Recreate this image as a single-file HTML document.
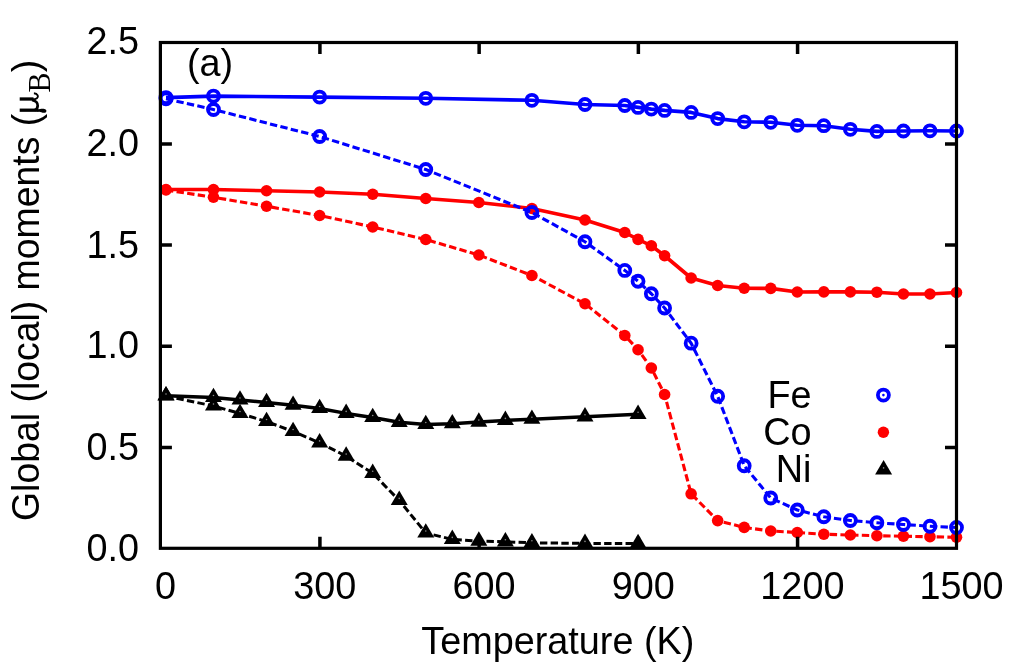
<!DOCTYPE html>
<html><head><meta charset="utf-8"><title>Global (local) moments</title>
<style>html,body{margin:0;padding:0;background:#fff;overflow:hidden}svg text{fill:#000}</style></head>
<body>
<div style="will-change:transform;width:1024px;height:668px"><svg width="1024" height="668" viewBox="0 0 1024 668" style="display:block;font-family:'Liberation Sans',sans-serif">
<rect width="1024" height="668" fill="#fff"/>
<polyline points="166.0,189.5 213.47,189.5 266.55,190.75 319.62,192 372.69,194.25 425.77,198.5 478.84,202.5 531.91,208.5 584.99,220 624.79,232.5 638.06,239.4 651.33,245.75 664.6,255.75 691.13,278 717.67,285.5 744.21,288.25 770.74,288.4 797.28,292 823.82,291.9 850.35,291.9 876.89,292.2 903.43,294 929.96,294 956.5,292.5" fill="none" stroke="#f00" stroke-width="3.6" stroke-linejoin="round"/>
<circle cx="166.0" cy="189.5" r="5.8" fill="#f00"/>
<circle cx="213.47" cy="189.5" r="5.8" fill="#f00"/>
<circle cx="266.55" cy="190.75" r="5.8" fill="#f00"/>
<circle cx="319.62" cy="192" r="5.8" fill="#f00"/>
<circle cx="372.69" cy="194.25" r="5.8" fill="#f00"/>
<circle cx="425.77" cy="198.5" r="5.8" fill="#f00"/>
<circle cx="478.84" cy="202.5" r="5.8" fill="#f00"/>
<circle cx="531.91" cy="208.5" r="5.8" fill="#f00"/>
<circle cx="584.99" cy="220" r="5.8" fill="#f00"/>
<circle cx="624.79" cy="232.5" r="5.8" fill="#f00"/>
<circle cx="638.06" cy="239.4" r="5.8" fill="#f00"/>
<circle cx="651.33" cy="245.75" r="5.8" fill="#f00"/>
<circle cx="664.6" cy="255.75" r="5.8" fill="#f00"/>
<circle cx="691.13" cy="278" r="5.8" fill="#f00"/>
<circle cx="717.67" cy="285.5" r="5.8" fill="#f00"/>
<circle cx="744.21" cy="288.25" r="5.8" fill="#f00"/>
<circle cx="770.74" cy="288.4" r="5.8" fill="#f00"/>
<circle cx="797.28" cy="292" r="5.8" fill="#f00"/>
<circle cx="823.82" cy="291.9" r="5.8" fill="#f00"/>
<circle cx="850.35" cy="291.9" r="5.8" fill="#f00"/>
<circle cx="876.89" cy="292.2" r="5.8" fill="#f00"/>
<circle cx="903.43" cy="294" r="5.8" fill="#f00"/>
<circle cx="929.96" cy="294" r="5.8" fill="#f00"/>
<circle cx="956.5" cy="292.5" r="5.8" fill="#f00"/>
<polyline points="166.0,190 213.47,197.25 266.55,206.25 319.62,215.5 372.69,227 425.77,239.5 478.84,255 531.91,275.5 584.99,303.75 624.79,335.5 638.06,349.75 651.33,368 664.6,394.5 691.13,493.8 717.67,520.6 744.21,527.4 770.74,531 797.28,532.5 823.82,534.25 850.35,535 876.89,535.75 903.43,536.25 929.96,536.75 956.5,537.25" fill="none" stroke="#f00" stroke-width="3.1" stroke-dasharray="7.4 3.3" stroke-linejoin="round"/>
<circle cx="166.0" cy="190" r="5.8" fill="#f00"/>
<circle cx="213.47" cy="197.25" r="5.8" fill="#f00"/>
<circle cx="266.55" cy="206.25" r="5.8" fill="#f00"/>
<circle cx="319.62" cy="215.5" r="5.8" fill="#f00"/>
<circle cx="372.69" cy="227" r="5.8" fill="#f00"/>
<circle cx="425.77" cy="239.5" r="5.8" fill="#f00"/>
<circle cx="478.84" cy="255" r="5.8" fill="#f00"/>
<circle cx="531.91" cy="275.5" r="5.8" fill="#f00"/>
<circle cx="584.99" cy="303.75" r="5.8" fill="#f00"/>
<circle cx="624.79" cy="335.5" r="5.8" fill="#f00"/>
<circle cx="638.06" cy="349.75" r="5.8" fill="#f00"/>
<circle cx="651.33" cy="368" r="5.8" fill="#f00"/>
<circle cx="664.6" cy="394.5" r="5.8" fill="#f00"/>
<circle cx="691.13" cy="493.8" r="5.8" fill="#f00"/>
<circle cx="717.67" cy="520.6" r="5.8" fill="#f00"/>
<circle cx="744.21" cy="527.4" r="5.8" fill="#f00"/>
<circle cx="770.74" cy="531" r="5.8" fill="#f00"/>
<circle cx="797.28" cy="532.5" r="5.8" fill="#f00"/>
<circle cx="823.82" cy="534.25" r="5.8" fill="#f00"/>
<circle cx="850.35" cy="535" r="5.8" fill="#f00"/>
<circle cx="876.89" cy="535.75" r="5.8" fill="#f00"/>
<circle cx="903.43" cy="536.25" r="5.8" fill="#f00"/>
<circle cx="929.96" cy="536.75" r="5.8" fill="#f00"/>
<circle cx="956.5" cy="537.25" r="5.8" fill="#f00"/>
<polyline points="166.0,97.6 213.47,96.1 319.62,97.1 425.77,98.3 531.91,100.3 584.99,104.5 624.79,105.5 638.06,107.4 651.33,109.1 664.6,110.4 691.13,112.4 717.67,118.6 744.21,121.8 770.74,122.3 797.28,125.3 823.82,125.7 850.35,129.3 876.89,131.4 903.43,131.0 929.96,130.8 956.5,131.0" fill="none" stroke="#00f" stroke-width="3.6" stroke-linejoin="round"/>
<circle cx="166.0" cy="97.6" r="5.5" fill="none" stroke="#00f" stroke-width="3.8"/>
<circle cx="213.47" cy="96.1" r="5.5" fill="none" stroke="#00f" stroke-width="3.8"/>
<circle cx="319.62" cy="97.1" r="5.5" fill="none" stroke="#00f" stroke-width="3.8"/>
<circle cx="425.77" cy="98.3" r="5.5" fill="none" stroke="#00f" stroke-width="3.8"/>
<circle cx="531.91" cy="100.3" r="5.5" fill="none" stroke="#00f" stroke-width="3.8"/>
<circle cx="584.99" cy="104.5" r="5.5" fill="none" stroke="#00f" stroke-width="3.8"/>
<circle cx="624.79" cy="105.5" r="5.5" fill="none" stroke="#00f" stroke-width="3.8"/>
<circle cx="638.06" cy="107.4" r="5.5" fill="none" stroke="#00f" stroke-width="3.8"/>
<circle cx="651.33" cy="109.1" r="5.5" fill="none" stroke="#00f" stroke-width="3.8"/>
<circle cx="664.6" cy="110.4" r="5.5" fill="none" stroke="#00f" stroke-width="3.8"/>
<circle cx="691.13" cy="112.4" r="5.5" fill="none" stroke="#00f" stroke-width="3.8"/>
<circle cx="717.67" cy="118.6" r="5.5" fill="none" stroke="#00f" stroke-width="3.8"/>
<circle cx="744.21" cy="121.8" r="5.5" fill="none" stroke="#00f" stroke-width="3.8"/>
<circle cx="770.74" cy="122.3" r="5.5" fill="none" stroke="#00f" stroke-width="3.8"/>
<circle cx="797.28" cy="125.3" r="5.5" fill="none" stroke="#00f" stroke-width="3.8"/>
<circle cx="823.82" cy="125.7" r="5.5" fill="none" stroke="#00f" stroke-width="3.8"/>
<circle cx="850.35" cy="129.3" r="5.5" fill="none" stroke="#00f" stroke-width="3.8"/>
<circle cx="876.89" cy="131.4" r="5.5" fill="none" stroke="#00f" stroke-width="3.8"/>
<circle cx="903.43" cy="131.0" r="5.5" fill="none" stroke="#00f" stroke-width="3.8"/>
<circle cx="929.96" cy="130.8" r="5.5" fill="none" stroke="#00f" stroke-width="3.8"/>
<circle cx="956.5" cy="131.0" r="5.5" fill="none" stroke="#00f" stroke-width="3.8"/>
<polyline points="166.0,98.8 213.47,109.5 319.62,136.5 425.77,169.5 531.91,212.5 584.99,241.75 624.79,270.4 638.06,281.25 651.33,293.75 664.6,308 691.13,343.2 717.67,396.25 744.21,465.75 770.74,498 797.28,510 823.82,516.75 850.35,520.5 876.89,522.75 903.43,524.5 929.96,526.25 956.5,527.5" fill="none" stroke="#00f" stroke-width="3.1" stroke-dasharray="7.4 3.3" stroke-linejoin="round"/>
<circle cx="166.0" cy="98.8" r="5.5" fill="none" stroke="#00f" stroke-width="3.8"/>
<circle cx="213.47" cy="109.5" r="5.5" fill="none" stroke="#00f" stroke-width="3.8"/>
<circle cx="319.62" cy="136.5" r="5.5" fill="none" stroke="#00f" stroke-width="3.8"/>
<circle cx="425.77" cy="169.5" r="5.5" fill="none" stroke="#00f" stroke-width="3.8"/>
<circle cx="531.91" cy="212.5" r="5.5" fill="none" stroke="#00f" stroke-width="3.8"/>
<circle cx="584.99" cy="241.75" r="5.5" fill="none" stroke="#00f" stroke-width="3.8"/>
<circle cx="624.79" cy="270.4" r="5.5" fill="none" stroke="#00f" stroke-width="3.8"/>
<circle cx="638.06" cy="281.25" r="5.5" fill="none" stroke="#00f" stroke-width="3.8"/>
<circle cx="651.33" cy="293.75" r="5.5" fill="none" stroke="#00f" stroke-width="3.8"/>
<circle cx="664.6" cy="308" r="5.5" fill="none" stroke="#00f" stroke-width="3.8"/>
<circle cx="691.13" cy="343.2" r="5.5" fill="none" stroke="#00f" stroke-width="3.8"/>
<circle cx="717.67" cy="396.25" r="5.5" fill="none" stroke="#00f" stroke-width="3.8"/>
<circle cx="744.21" cy="465.75" r="5.5" fill="none" stroke="#00f" stroke-width="3.8"/>
<circle cx="770.74" cy="498" r="5.5" fill="none" stroke="#00f" stroke-width="3.8"/>
<circle cx="797.28" cy="510" r="5.5" fill="none" stroke="#00f" stroke-width="3.8"/>
<circle cx="823.82" cy="516.75" r="5.5" fill="none" stroke="#00f" stroke-width="3.8"/>
<circle cx="850.35" cy="520.5" r="5.5" fill="none" stroke="#00f" stroke-width="3.8"/>
<circle cx="876.89" cy="522.75" r="5.5" fill="none" stroke="#00f" stroke-width="3.8"/>
<circle cx="903.43" cy="524.5" r="5.5" fill="none" stroke="#00f" stroke-width="3.8"/>
<circle cx="929.96" cy="526.25" r="5.5" fill="none" stroke="#00f" stroke-width="3.8"/>
<circle cx="956.5" cy="527.5" r="5.5" fill="none" stroke="#00f" stroke-width="3.8"/>
<polyline points="166.0,395.7 213.47,397.5 240.01,400 266.55,402.5 293.08,405.2 319.62,408.5 346.16,413.4 372.69,417.5 399.23,422.3 425.77,424.5 452.3,423.7 478.84,422.1 505.38,420.4 531.91,419.2 584.99,416.8 638.06,414.3" fill="none" stroke="#000" stroke-width="3.5" stroke-linejoin="round"/>
<polygon points="166.0,385.9 174.5,400.3 157.5,400.3" fill="#000"/><circle cx="166.0" cy="393.7" r="0.8" fill="#8a8a8a"/>
<polygon points="213.47,387.7 221.97,402.1 204.97,402.1" fill="#000"/><circle cx="213.47" cy="395.5" r="0.8" fill="#8a8a8a"/>
<polygon points="240.01,390.2 248.51,404.6 231.51,404.6" fill="#000"/><circle cx="240.01" cy="398.0" r="0.8" fill="#8a8a8a"/>
<polygon points="266.55,392.7 275.05,407.1 258.05,407.1" fill="#000"/><circle cx="266.55" cy="400.5" r="0.8" fill="#8a8a8a"/>
<polygon points="293.08,395.4 301.58,409.8 284.58,409.8" fill="#000"/><circle cx="293.08" cy="403.2" r="0.8" fill="#8a8a8a"/>
<polygon points="319.62,398.7 328.12,413.1 311.12,413.1" fill="#000"/><circle cx="319.62" cy="406.5" r="0.8" fill="#8a8a8a"/>
<polygon points="346.16,403.6 354.66,418.0 337.66,418.0" fill="#000"/><circle cx="346.16" cy="411.4" r="0.8" fill="#8a8a8a"/>
<polygon points="372.69,407.7 381.19,422.1 364.19,422.1" fill="#000"/><circle cx="372.69" cy="415.5" r="0.8" fill="#8a8a8a"/>
<polygon points="399.23,412.5 407.73,426.9 390.73,426.9" fill="#000"/><circle cx="399.23" cy="420.3" r="0.8" fill="#8a8a8a"/>
<polygon points="425.77,414.7 434.27,429.1 417.27,429.1" fill="#000"/><circle cx="425.77" cy="422.5" r="0.8" fill="#8a8a8a"/>
<polygon points="452.3,413.9 460.8,428.3 443.8,428.3" fill="#000"/><circle cx="452.3" cy="421.7" r="0.8" fill="#8a8a8a"/>
<polygon points="478.84,412.3 487.34,426.7 470.34,426.7" fill="#000"/><circle cx="478.84" cy="420.1" r="0.8" fill="#8a8a8a"/>
<polygon points="505.38,410.6 513.88,425.0 496.88,425.0" fill="#000"/><circle cx="505.38" cy="418.4" r="0.8" fill="#8a8a8a"/>
<polygon points="531.91,409.4 540.41,423.8 523.41,423.8" fill="#000"/><circle cx="531.91" cy="417.2" r="0.8" fill="#8a8a8a"/>
<polygon points="584.99,407.0 593.49,421.4 576.49,421.4" fill="#000"/><circle cx="584.99" cy="414.8" r="0.8" fill="#8a8a8a"/>
<polygon points="638.06,404.5 646.56,418.9 629.56,418.9" fill="#000"/><circle cx="638.06" cy="412.3" r="0.8" fill="#8a8a8a"/>
<polyline points="166.0,396 213.47,406 240.01,413.5 266.55,421.5 293.08,431.5 319.62,442.9 346.16,456.1 372.69,473.3 399.23,500.4 425.77,533 452.3,539.4 478.84,541.1 505.38,541.8 531.91,542.8 584.99,543.4 638.06,543.6" fill="none" stroke="#000" stroke-width="3.0" stroke-dasharray="7.4 3.3" stroke-linejoin="round"/>
<polygon points="166.0,386.2 174.5,400.6 157.5,400.6" fill="#000"/><circle cx="166.0" cy="394.0" r="0.8" fill="#8a8a8a"/>
<polygon points="213.47,396.2 221.97,410.6 204.97,410.6" fill="#000"/><circle cx="213.47" cy="404.0" r="0.8" fill="#8a8a8a"/>
<polygon points="240.01,403.7 248.51,418.1 231.51,418.1" fill="#000"/><circle cx="240.01" cy="411.5" r="0.8" fill="#8a8a8a"/>
<polygon points="266.55,411.7 275.05,426.1 258.05,426.1" fill="#000"/><circle cx="266.55" cy="419.5" r="0.8" fill="#8a8a8a"/>
<polygon points="293.08,421.7 301.58,436.1 284.58,436.1" fill="#000"/><circle cx="293.08" cy="429.5" r="0.8" fill="#8a8a8a"/>
<polygon points="319.62,433.1 328.12,447.5 311.12,447.5" fill="#000"/><circle cx="319.62" cy="440.9" r="0.8" fill="#8a8a8a"/>
<polygon points="346.16,446.3 354.66,460.7 337.66,460.7" fill="#000"/><circle cx="346.16" cy="454.1" r="0.8" fill="#8a8a8a"/>
<polygon points="372.69,463.5 381.19,477.9 364.19,477.9" fill="#000"/><circle cx="372.69" cy="471.3" r="0.8" fill="#8a8a8a"/>
<polygon points="399.23,490.6 407.73,505.0 390.73,505.0" fill="#000"/><circle cx="399.23" cy="498.4" r="0.8" fill="#8a8a8a"/>
<polygon points="425.77,523.2 434.27,537.6 417.27,537.6" fill="#000"/><circle cx="425.77" cy="531.0" r="0.8" fill="#8a8a8a"/>
<polygon points="452.3,529.6 460.8,544.0 443.8,544.0" fill="#000"/><circle cx="452.3" cy="537.4" r="0.8" fill="#8a8a8a"/>
<polygon points="478.84,531.3 487.34,545.7 470.34,545.7" fill="#000"/><circle cx="478.84" cy="539.1" r="0.8" fill="#8a8a8a"/>
<polygon points="505.38,532.0 513.88,546.4 496.88,546.4" fill="#000"/><circle cx="505.38" cy="539.8" r="0.8" fill="#8a8a8a"/>
<polygon points="531.91,533.0 540.41,547.4 523.41,547.4" fill="#000"/><circle cx="531.91" cy="540.8" r="0.8" fill="#8a8a8a"/>
<polygon points="584.99,533.6 593.49,548.0 576.49,548.0" fill="#000"/><circle cx="584.99" cy="541.4" r="0.8" fill="#8a8a8a"/>
<polygon points="638.06,533.8 646.56,548.2 629.56,548.2" fill="#000"/><circle cx="638.06" cy="541.6" r="0.8" fill="#8a8a8a"/>
<circle cx="883.4" cy="395.1" r="5.5" fill="none" stroke="#00f" stroke-width="3.8"/><circle cx="883.4" cy="395.1" r="1.3" fill="#00f"/>
<circle cx="883.4" cy="432.3" r="5.7" fill="#f00"/>
<polygon points="883.6,460.1 892.1,474.5 875.1,474.5" fill="#000"/><circle cx="883.6" cy="467.9" r="0.8" fill="#8a8a8a"/>
<rect x="160.4" y="42.5" width="796.1" height="505.79999999999995" fill="none" stroke="#000" stroke-width="3.2"/>
<path d="M319.92 548.3V536.8M319.92 42.5V54.0" stroke="#000" stroke-width="3.5" fill="none"/>
<path d="M479.14 548.3V536.8M479.14 42.5V54.0" stroke="#000" stroke-width="3.5" fill="none"/>
<path d="M638.36 548.3V536.8M638.36 42.5V54.0" stroke="#000" stroke-width="3.5" fill="none"/>
<path d="M797.58 548.3V536.8M797.58 42.5V54.0" stroke="#000" stroke-width="3.5" fill="none"/>
<path d="M160.4 447.44H171.9M956.5 447.44H945.0" stroke="#000" stroke-width="3.5" fill="none"/>
<path d="M160.4 346.28H171.9M956.5 346.28H945.0" stroke="#000" stroke-width="3.5" fill="none"/>
<path d="M160.4 245.12H171.9M956.5 245.12H945.0" stroke="#000" stroke-width="3.5" fill="none"/>
<path d="M160.4 143.96H171.9M956.5 143.96H945.0" stroke="#000" stroke-width="3.5" fill="none"/>
<text transform="translate(139.0 561.1) scale(1 1.04)" font-size="37.8" text-anchor="end">0.0</text>
<text transform="translate(139.0 459.54) scale(1 1.04)" font-size="37.8" text-anchor="end">0.5</text>
<text transform="translate(139.0 357.88) scale(1 1.04)" font-size="37.8" text-anchor="end">1.0</text>
<text transform="translate(139.0 257.67) scale(1 1.04)" font-size="37.8" text-anchor="end">1.5</text>
<text transform="translate(139.0 155.86) scale(1 1.04)" font-size="37.8" text-anchor="end">2.0</text>
<text transform="translate(139.0 54.4) scale(1 1.04)" font-size="37.8" text-anchor="end">2.5</text>
<text transform="translate(165.5 598.6) scale(1 1.04)" font-size="37.8" text-anchor="middle">0</text>
<text transform="translate(324.72 598.6) scale(1 1.04)" font-size="37.8" text-anchor="middle">300</text>
<text transform="translate(483.94 598.6) scale(1 1.04)" font-size="37.8" text-anchor="middle">600</text>
<text transform="translate(643.16 598.6) scale(1 1.04)" font-size="37.8" text-anchor="middle">900</text>
<text transform="translate(802.38 598.6) scale(1 1.04)" font-size="37.8" text-anchor="middle">1200</text>
<text transform="translate(961.6 598.6) scale(1 1.04)" font-size="37.8" text-anchor="middle">1500</text>
<text transform="translate(557.8 654.4) scale(1 1.04)" font-size="37.8" text-anchor="middle">Temperature (K)</text>
<text transform="translate(187.0 75.5) scale(1 1.04)" font-size="37.8" text-anchor="start">(a)</text>
<text transform="translate(811.5 408.0) scale(1 1.04)" font-size="37.8" text-anchor="end">Fe</text>
<text transform="translate(811.5 445.4) scale(1 1.04)" font-size="37.8" text-anchor="end">Co</text>
<text transform="translate(811.5 481.6) scale(1 1.04)" font-size="37.8" text-anchor="end">Ni</text>
<text transform="translate(38.6 521) rotate(-90) scale(1 1.05)" font-size="37.4">Global (local) moments (</text>
<g fill="none" stroke="#000">
<path d="M19.7 99H33.5" stroke-width="3.3"/>
<path d="M19.7 110.2H38.5" stroke-width="3.3"/>
<path d="M32 99.3C36.6 99.4 38.7 97.6 37.7 95.4C37 94 35.6 93.3 33.9 93.2" stroke-width="1.9"/>
<path d="M32 100C35.8 100.8 37.8 103 37.7 105.8C37.6 108 36.5 109.6 34.5 110.3" stroke-width="2.7"/>
<path d="M37.5 109.4C39.5 109.4 41.2 108.6 43.6 108.8C46.2 109 47 110.7 46.1 112C45.2 113.1 43.2 113 41.3 112.3C39.8 111.8 38.5 111.8 37.5 111.8Z" fill="#000" stroke="none"/>
</g>
<text transform="translate(49.8 92.6) rotate(-90) scale(1 1.02)" font-size="30" font-family="'Liberation Serif',serif">B</text>
<text transform="translate(38.6 72.2) rotate(-90) scale(1 1.05)" font-size="37.4">)</text>
</svg>
</div></body></html>
